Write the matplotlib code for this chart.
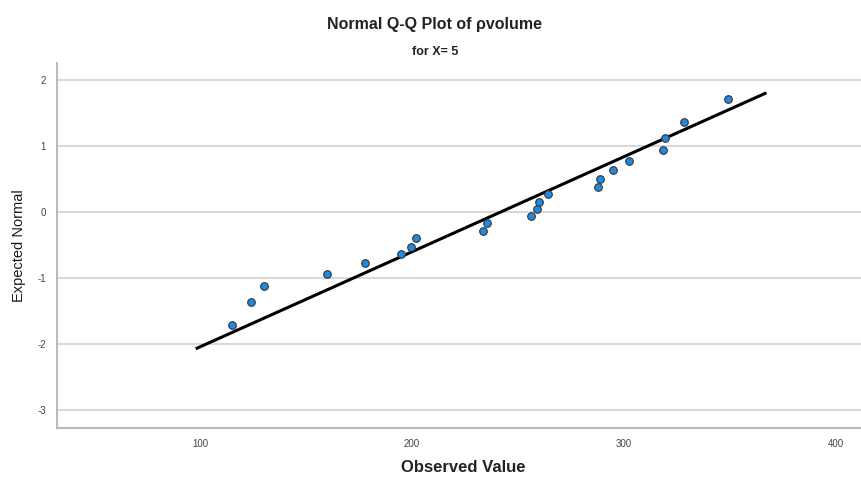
import matplotlib.pyplot as plt

plt.rcParams["font.family"] = ["Liberation Sans", "DejaVu Sans"]
plt.rcParams["axes.unicode_minus"] = False

observed = [115.1, 124.1, 130.2, 159.9, 177.8, 194.8, 199.5, 201.9, 233.5, 235.4,
            256.1, 258.9, 260.1, 264.3, 287.6, 288.5, 294.7, 302.5, 318.4, 319.3,
            328.2, 348.9]
expected = [-1.71, -1.36, -1.12, -0.94, -0.77, -0.64, -0.52, -0.39, -0.28, -0.17,
            -0.06, 0.05, 0.16, 0.27, 0.38, 0.51, 0.64, 0.77, 0.94, 1.12,
            1.36, 1.71]
line_x = [98.6, 366.5]
line_y = [-2.06, 1.80]
xticks = [100, 200, 300, 400]
yticks = [-3, -2, -1, 0, 1, 2]

fig = plt.figure(figsize=(8.61, 4.78), dpi=100)
ax = fig.add_axes([0.0662, 0.1046, 0.9338, 0.7634])

for t in yticks:
    ax.axhline(t, color="#d9d9d9", lw=1.5, zorder=0)

ax.plot(line_x, line_y, color="black", lw=2.2, zorder=2)
ax.scatter(observed, expected, s=30, color="#1f8ae0", edgecolors="#333333",
           linewidths=0.8, zorder=3)

ax.set_xlim(32.5, 411.8)
ax.set_ylim(-3.27, 2.26)
ax.set_xticks(xticks)
ax.set_yticks(yticks)
ax.tick_params(length=0, labelsize=7, labelcolor="#444444", pad=8)
for s in ["top", "right"]:
    ax.spines[s].set_visible(False)
for s in ["left", "bottom"]:
    ax.spines[s].set_color("#bbbbbb")
    ax.spines[s].set_linewidth(1.5)

ax.set_ylabel("Expected Normal", fontsize=10.5, color="#1a1a1a", labelpad=8)

fig.text(0.538, 0.021, "Observed Value", ha="center", va="center",
         fontsize=12, fontweight="bold", color="#222222")
fig.text(0.505, 0.948, "Normal Q-Q Plot of ρvolume", ha="center", va="center",
         fontsize=11.5, fontweight="bold", color="#222222")
fig.text(0.505, 0.891, "for X= 5", ha="center", va="center",
         fontsize=9, fontweight="bold", color="#222222")

fig.savefig("out.png", dpi=100)
